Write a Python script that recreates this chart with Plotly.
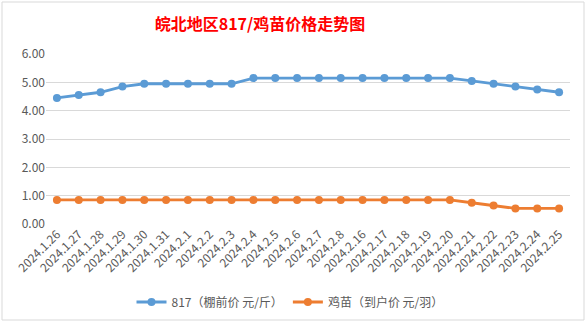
import plotly.graph_objects as go

# Dates (categories) and prices
dates = ["2024.1.26", "2024.1.27", "2024.1.28", "2024.1.29", "2024.1.30", "2024.1.31",
         "2024.2.1", "2024.2.2", "2024.2.3", "2024.2.4", "2024.2.5", "2024.2.6",
         "2024.2.7", "2024.2.8", "2024.2.16", "2024.2.17", "2024.2.18", "2024.2.19",
         "2024.2.20", "2024.2.21", "2024.2.22", "2024.2.23", "2024.2.24", "2024.2.25"]
price_817 = [4.45, 4.55, 4.65, 4.85, 4.95, 4.95, 4.95, 4.95, 4.95, 5.15, 5.15, 5.15,
             5.15, 5.15, 5.15, 5.15, 5.15, 5.15, 5.15, 5.05, 4.95, 4.85, 4.75, 4.65]
price_chick = [0.85, 0.85, 0.85, 0.85, 0.85, 0.85, 0.85, 0.85, 0.85, 0.85, 0.85, 0.85,
               0.85, 0.85, 0.85, 0.85, 0.85, 0.85, 0.85, 0.75, 0.65, 0.55, 0.55, 0.55]
y_ticks = [0, 1, 2, 3, 4, 5, 6]

name_817 = "817（棚前价 元/斤）"
name_chick = "鸡苗（到户价 元/羽）"

W, H = 588, 324
ML, MR, MT, MB = 46, 18, 54, 100
PW, PH = W - ML - MR, H - MT - MB

def px_x(px):
    return (px - ML) / PW

def px_y(py):
    return (H - MB - py) / PH

FONT = "Noto Sans CJK SC"
BLUE = "#5B9BD5"
ORANGE = "#ED7D31"

fig = go.Figure()
fig.add_trace(go.Scatter(x=dates, y=price_817, name=name_817, mode="lines+markers",
                         line=dict(color=BLUE, width=2.8),
                         marker=dict(color=BLUE, size=8)))
fig.add_trace(go.Scatter(x=dates, y=price_chick, name=name_chick, mode="lines+markers",
                         line=dict(color=ORANGE, width=2.8),
                         marker=dict(color=ORANGE, size=8)))

fig.update_layout(
    width=W, height=H,
    margin=dict(l=ML, r=MR, t=MT, b=MB, pad=0, autoexpand=False),
    paper_bgcolor="white", plot_bgcolor="white",
    font=dict(family=FONT, color="#595959", size=12),
    title=dict(text="<b>皖北地区817/鸡苗价格走势图</b>",
               font=dict(family=FONT, size=16, color="#FF0000"),
               x=260 / W, xanchor="center", y=1 - 24 / H, yanchor="middle"),
    xaxis=dict(type="category", tickangle=-45, showgrid=False, zeroline=False,
               showline=False, ticks="", automargin=False,
               tickfont=dict(size=12, color="#595959"),
               range=[-0.5, len(dates) - 0.5]),
    yaxis=dict(range=[0, 6], tickvals=y_ticks, tickformat=".2f",
               showgrid=True, gridcolor="#D9D9D9", gridwidth=1, automargin=False,
               zeroline=False, showline=False, ticks="", ticksuffix="  ",
               tickfont=dict(size=12, color="#595959")),
    legend=dict(orientation="h", x=px_x(290), xanchor="center",
                y=px_y(302), yanchor="middle",
                font=dict(size=12, color="#595959"), itemwidth=30,
                bgcolor="rgba(0,0,0,0)"),
    showlegend=True,
    shapes=[dict(type="rect", xref="paper", yref="paper",
                 x0=px_x(2), x1=px_x(584), y0=px_y(320), y1=px_y(2),
                 line=dict(color="#D9D9D9", width=1), fillcolor="rgba(0,0,0,0)",
                 layer="below")],
)

fig.write_html("out.html")
